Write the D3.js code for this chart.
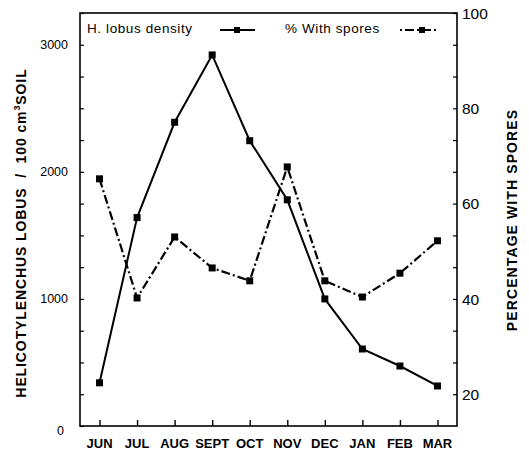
<!DOCTYPE html>
<html>
<head>
<meta charset="utf-8">
<script src="https://cdn.jsdelivr.net/npm/d3@7"></script>
<style>
  body { margin: 0; background: #fff; }
  svg { display: block; font-family: "Liberation Sans", Arial, sans-serif; }
</style>
</head>
<body>
<script>
const months = ["JUN", "JUL", "AUG", "SEPT", "OCT", "NOV", "DEC", "JAN", "FEB", "MAR"];
const density = [340, 1640, 2390, 2920, 2245, 1780, 1000, 606, 472, 315];
const spores = [65.2, 40.2, 53.0, 46.5, 43.8, 67.7, 43.8, 40.4, 45.4, 52.2];
const leftTicks = [0, 1000, 2000, 3000];
const rightTicks = [20, 40, 60, 80, 100];

const width = 529, height = 456;
const m = {left: 80, right: 457, top: 13, bottom: 426};

const svg = d3.select("body").append("svg")
    .attr("width", width).attr("height", height);

let x = d3.scalePoint().domain(months).range([m.left, m.right]).padding(0.52);
let y = d3.scaleLinear().domain([0, 3250]).range([m.bottom, m.top]);
// right axis: 100 sits on the top edge, 20 lines up with 250 on the left
let y2 = d3.scaleLinear().domain([100 - 3250 / 37.5, 100]).range([m.bottom, m.top]);

// frame
svg.append("rect")
    .attr("x", m.left).attr("y", m.top)
    .attr("width", m.right - m.left).attr("height", m.bottom - m.top)
    .attr("fill", "none").attr("stroke", "#000").attr("stroke-width", 1.6);

// left axis, ticks inside
let gl = svg.append("g").attr("transform", `translate(${m.left},0)`)
    .call(d3.axisRight(y).tickValues(d3.range(0, 3251, 250)).tickSize(4).tickFormat(""));
gl.select(".domain").remove();
gl.selectAll("line").attr("stroke-width", 1.2);

svg.append("g").selectAll("text").data(leftTicks).join("text")
    .attr("x", d => d === 0 ? 64 : 68)
    .attr("y", d => d === 0 ? y(d) + 5 : y(d))
    .attr("dy", "0.35em")
    .attr("text-anchor", "end")
    .attr("font-size", 12.5)
    .text(d => d);

// right axis, ticks inside
let gr = svg.append("g").attr("transform", `translate(${m.right},0)`)
    .call(d3.axisLeft(y2).tickValues(d3.range(20, 100.1, 20 / 3)).tickSize(4).tickFormat(""));
gr.select(".domain").remove();
gr.selectAll("line").attr("stroke-width", 1.2);

svg.append("g").selectAll("text").data(rightTicks).join("text")
    .attr("x", 462)
    .attr("y", d => y2(d))
    .attr("dy", "0.36em")
    .attr("font-size", 15.5)
    .text(d => d);

// bottom axis, ticks inside
let gb = svg.append("g").attr("transform", `translate(0,${m.bottom})`)
    .call(d3.axisTop(x).tickSize(6).tickFormat(""));
gb.select(".domain").remove();
gb.selectAll("line").attr("stroke-width", 1.4);

svg.append("g").selectAll("text").data(months).join("text")
    .attr("x", d => x(d))
    .attr("y", 448)
    .attr("text-anchor", "middle")
    .attr("font-size", 13)
    .attr("font-weight", "bold")
    .text(d => d);

// axis titles
svg.append("text")
    .attr("transform", "translate(26,233) rotate(-90)")
    .attr("text-anchor", "middle")
    .attr("font-size", 14)
    .attr("font-weight", "bold")
    .attr("letter-spacing", 0.9)
    .html('HELICOTYLENCHUS LOBUS&#160;&#160;/&#160;&#160;100 cm<tspan dy="-6" font-size="9">3</tspan><tspan dy="6">SOIL</tspan>');

svg.append("text")
    .attr("transform", "translate(517,220) rotate(-90)")
    .attr("text-anchor", "middle")
    .attr("font-size", 14)
    .attr("font-weight", "bold")
    .attr("letter-spacing", 1.1)
    .text("PERCENTAGE  WITH SPORES");

// series
const dashDot = "9,3,2,3";

let line1 = d3.line().x((d, i) => x(months[i])).y(d => y(d));
let line2 = d3.line().x((d, i) => x(months[i])).y(d => y2(d));

svg.append("path").datum(density).attr("d", line1)
    .attr("fill", "none").attr("stroke", "#000").attr("stroke-width", 2);
svg.append("path").datum(spores).attr("d", line2)
    .attr("fill", "none").attr("stroke", "#000").attr("stroke-width", 2.2)
    .attr("stroke-dasharray", dashDot);

let s = 7;
svg.append("g").selectAll("rect").data(density).join("rect")
    .attr("x", (d, i) => x(months[i]) - s / 2).attr("y", d => y(d) - s / 2)
    .attr("width", s).attr("height", s).attr("fill", "#000");
svg.append("g").selectAll("rect").data(spores).join("rect")
    .attr("x", (d, i) => x(months[i]) - s / 2).attr("y", d => y2(d) - s / 2)
    .attr("width", s).attr("height", s).attr("fill", "#000");

// legend
let lg = svg.append("g");
lg.append("text").attr("x", 87).attr("y", 33).attr("font-size", 13.5)
    .attr("letter-spacing", 0.6).text("H. lobus density");
lg.append("line").attr("x1", 220).attr("x2", 255).attr("y1", 30).attr("y2", 30)
    .attr("stroke", "#000").attr("stroke-width", 2);
lg.append("rect").attr("x", 234).attr("y", 27).attr("width", 6).attr("height", 6);

lg.append("text").attr("x", 285).attr("y", 33).attr("font-size", 13.5)
    .attr("letter-spacing", 0.6).text("% With spores");
lg.append("line").attr("x1", 400).attr("x2", 438).attr("y1", 30).attr("y2", 30)
    .attr("stroke", "#000").attr("stroke-width", 2).attr("stroke-dasharray", "2,3,9,3");
lg.append("rect").attr("x", 419).attr("y", 27).attr("width", 6).attr("height", 6);
</script>
</body>
</html>
